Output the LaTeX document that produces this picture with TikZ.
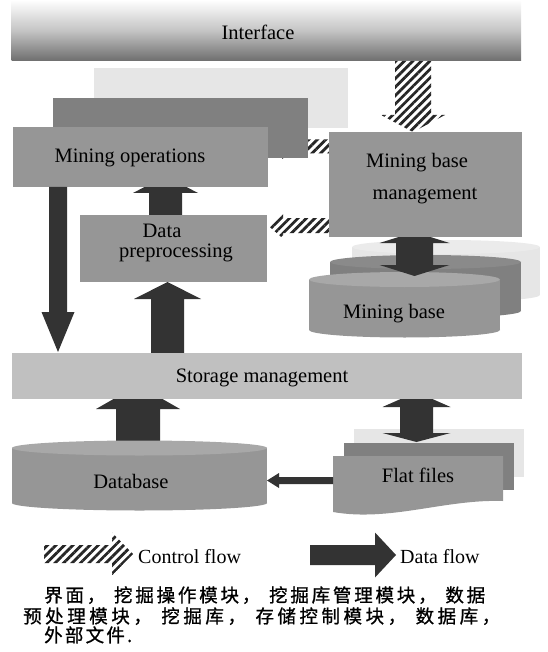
\documentclass[tikz,border=0pt]{standalone}
\usepackage{fontspec}
\setmainfont{Liberation Serif}
\newfontfamily\cjk[FakeBold=1]{Noto Sans CJK SC}
\usetikzlibrary{patterns.meta}
\definecolor{lgray}{HTML}{E6E6E6}
\definecolor{ltop}{HTML}{EBEBEB}
\definecolor{mgray}{HTML}{808080}
\definecolor{mtop}{HTML}{8A8A8A}
\definecolor{fgray}{HTML}{969696}
\definecolor{ftop}{HTML}{A8A8A8}
\definecolor{sgray}{HTML}{C0C0C0}
\definecolor{dgray}{HTML}{333333}
\definecolor{ifbot}{HTML}{6E6E6E}
\definecolor{ifmid}{HTML}{C4C4C4}
% vertical block arrow: style, cx, shaft half, head half, y start, y head base, y tip
\newcommand\vArr[7]{\fill[#1] (#2-#3,#5) -- (#2-#3,#6) -- (#2-#4,#6) -- (#2,#7) -- (#2+#4,#6) -- (#2+#3,#6) -- (#2+#3,#5) -- cycle;}
% horizontal block arrow: style, cy, shaft half, head half, x start, x head base, x tip
\newcommand\hArr[7]{\fill[#1] (#5,#2-#3) -- (#6,#2-#3) -- (#6,#2-#4) -- (#7,#2) -- (#6,#2+#4) -- (#6,#2+#3) -- (#5,#2+#3) -- cycle;}
% vertical double block arrow: style, cx, shaft half, head half, tip1, base1, base2, tip2
\newcommand\dArr[8]{\fill[#1] (#2,#5) -- (#2+#4,#6) -- (#2+#3,#6) -- (#2+#3,#7) -- (#2+#4,#7) -- (#2,#8) -- (#2-#4,#7) -- (#2-#3,#7) -- (#2-#3,#6) -- (#2-#4,#6) -- cycle;}
% cylinder: cx, rx, ytop, ybot, ry, body colour, top colour
\newcommand\cylDraw[7]{\fill[#6] (#1,#4) ellipse [x radius=#2, y radius=#5];
  \fill[#6] (#1-#2,#3) rectangle (#1+#2,#4);
  \fill[#7] (#1,#3) ellipse [x radius=#2, y radius=#5];}
% glue between CJK characters
\newcommand\zg{\hfil}
\newcommand\zc{\hspace{6pt}\hfil}
\tikzset{
  blk/.style={inner sep=0pt, outer sep=0pt, anchor=north west, draw=none},
  lbl/.style={font=\fontsize{20.5}{24}\selectfont, inner sep=0pt, anchor=base},
  zh/.style={font=\cjk\fontsize{18.5}{24}\selectfont, inner sep=0pt, anchor=base west},
  hatch/.style={preaction={fill=white}, pattern={Lines[angle=45,distance=6pt,line width=2.8pt]}, pattern color=black!85},
  dataflow/.style={fill=dgray},
}
\begin{document}
\begin{tikzpicture}[x=1pt,y=-1pt]
\useasboundingbox (0,0) rectangle (547,652);
% Interface
\node[blk, minimum width=509.5pt, minimum height=61pt, top color=white, bottom color=ifbot, middle color=ifmid] (iface) at (11.5,0) {};
\node[lbl] (ifacet) at (258,40) {Interface};
\vArr{hatch}{413}{18}{32}{61}{115}{132}
% stacked mining operations
\node[blk, fill=lgray, minimum width=254.5pt, minimum height=60pt] (ops3) at (93.5,68) {};
\hArr{hatch}{146.5}{7}{12.5}{329}{283}{268}
\node[blk, fill=mgray, minimum width=255pt, minimum height=60pt] (ops2) at (53,98) {};
\vArr{dataflow}{165.5}{16.5}{32.5}{215}{193}{176}
\node[blk, fill=fgray, minimum width=255pt, minimum height=60pt] (ops) at (13,127) {};
\node[lbl] (opst) at (130,163) {Mining operations};
% data preprocessing
\node[blk, fill=fgray, minimum width=187pt, minimum height=67pt] (pre) at (80,215) {};
\node[lbl] (pret1) at (162,237) {Data};
\node[lbl] (pret2) at (176,257) {preprocessing};
\hArr{hatch}{225.5}{7.5}{13}{329}{283}{268}
\vArr{dataflow}{58}{9}{16.5}{187}{312}{352}
\vArr{dataflow}{167.5}{16.5}{33.5}{353}{299}{282}
% mining base cylinders
\cylDraw{446}{94}{247}{295}{7}{lgray}{ltop}
\cylDraw{425.5}{95.5}{262}{311}{7}{mgray}{mtop}
\cylDraw{404.5}{95.5}{279.5}{330}{7.5}{fgray}{ftop}
\node[lbl] (mbt) at (394,318) {Mining base};
\dArr{dataflow}{414.5}{18.5}{35}{232}{243}{265}{276}
% mining base management
\node[blk, fill=fgray, minimum width=193pt, minimum height=105pt] (mgmt) at (329,132) {};
\node[lbl] (mgmtt1) at (417,168) {Mining base};
\node[lbl] (mgmtt2) at (425,200) {management};
% flat files
\node[blk, fill=lgray, minimum width=170pt, minimum height=48pt] (ff3) at (354,429) {};
\node[blk, fill=mgray, minimum width=170pt, minimum height=47pt] (ff2) at (344,443) {};
\vArr{dataflow}{138}{22}{42}{441}{409}{385}
\dArr{dataflow}{416.5}{16.5}{34}{392}{407}{433}{442}
% storage management
\node[blk, fill=sgray, minimum width=510pt, minimum height=46pt] (stor) at (12,353) {};
\node[lbl] (stort) at (262,382) {Storage management};
% flat files front document
\fill[fgray] (333,456) -- (503,456) -- (503,501) .. controls (445,499) and (390,522) .. (333,512) -- cycle;
\node[lbl] (fft) at (418,482) {Flat files};
\hArr{dataflow}{480.5}{3.5}{7.5}{333}{279}{267}
% database
\cylDraw{139.5}{127.5}{448}{503}{7.5}{fgray}{ftop}
\node[lbl] (dbt) at (131,488) {Database};
% legend
\hArr{hatch}{554}{9}{21.5}{44}{112}{133}
\node[lbl, anchor=base west, font=\fontsize{20}{24}\selectfont] (lg1) at (138,563) {Control flow};
\hArr{dataflow}{555}{10}{22.5}{310}{375}{396}
\node[lbl, anchor=base west, font=\fontsize{20}{24}\selectfont] (lg2) at (400,563) {Data flow};
% caption
\node[zh] (zh1) at (44,602) {\makebox[441pt][s]{界\zg 面\zg ，\zc 挖\zg 掘\zg 操\zg 作\zg 模\zg 块\zg ，\zc 挖\zg 掘\zg 库\zg 管\zg 理\zg 模\zg 块\zg ，\zc 数\zg 据}};
\node[zh] (zh2) at (23,623) {\makebox[477pt][s]{预\zg 处\zg 理\zg 模\zg 块\zg ，\zc 挖\zg 掘\zg 库\zg ，\zc 存\zg 储\zg 控\zg 制\zg 模\zg 块\zg ，\zc 数\zg 据\zg 库\zg ，}};
\node[zh] (zh3) at (44,642) {\makebox[88pt][s]{外\zg 部\zg 文\zg 件\zg .}};
\end{tikzpicture}
\end{document}
